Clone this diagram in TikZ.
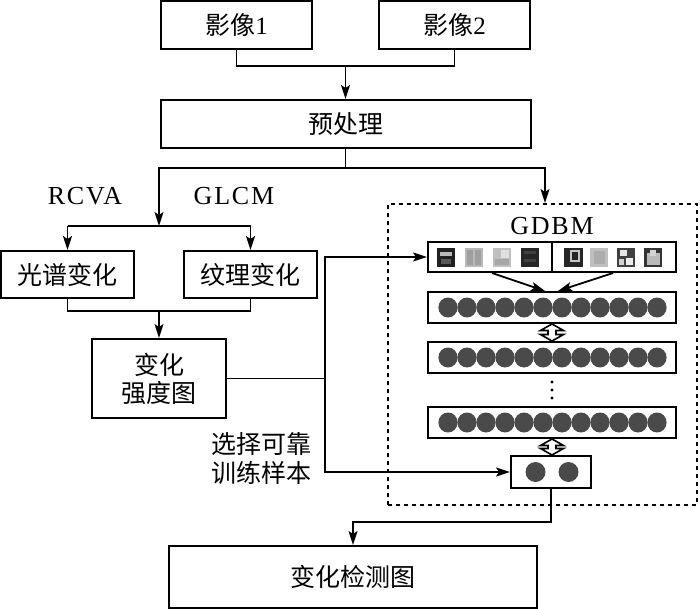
\documentclass[tikz,border=0pt]{standalone}
\usepackage{fontspec}
\setmainfont{Liberation Serif}
\newfontfamily\cjk{Noto Sans CJK SC}
\usetikzlibrary{arrows.meta,calc}
\definecolor{neur}{HTML}{4A4A4A}
\tikzset{
  box/.style={draw, line width=2pt, inner sep=0pt, align=center,
    font=\fontsize{25}{28}\selectfont\cjk},
  conn/.style={line width=1.8pt},
  arr/.style={conn, -{Stealth[length=14pt,width=9pt,inset=3pt]}},
  lbl/.style={inner sep=0pt, font=\fontsize{26}{30}\selectfont\addfontfeature{LetterSpace=7}},
  layerbox/.style={draw, line width=2pt, minimum width=248pt, minimum height=31pt, inner sep=0pt},
  dashbox/.style={draw, line width=2pt, dash pattern=on 4pt off 4pt, inner sep=0pt},
}
\newcommand\hollowarrow[2]{%
  \draw[line width=1.6pt, fill=white, line join=miter] let \p1=(#1), \p2=(#2) in
  (\x1,\y1) -- (\x1+11.5pt,\y1-6.5pt) -- (\x1+4pt,\y1-6.5pt) -- (\x1+4pt,\y2+6.5pt)
  -- (\x1+11.5pt,\y2+6.5pt) -- (\x1,\y2) -- (\x1-11.5pt,\y2+6.5pt) -- (\x1-4pt,\y2+6.5pt)
  -- (\x1-4pt,\y1-6.5pt) -- (\x1-11.5pt,\y1-6.5pt) -- cycle;}
\begin{document}
\begin{tikzpicture}[x=1pt,y=-1pt]
\useasboundingbox (0,0) rectangle (700,609);
\fill[white] (0,0) rectangle (700,609);

% main boxes
\node[box, minimum width=151pt, minimum height=48pt] (img1) at (236.5,25) {影像\fontspec{Liberation Serif}1};
\node[box, minimum width=151pt, minimum height=48pt] (img2) at (454.5,25) {影像\fontspec{Liberation Serif}2};
\node[box, minimum width=370pt, minimum height=48pt] (pre) at (345.5,124) {预处理};
\node[box, minimum width=133pt, minimum height=47pt] (spec) at (67.5,274.5) {光谱变化};
\node[box, minimum width=133pt, minimum height=47pt] (tex) at (250.5,274.5) {纹理变化};
\node[box, minimum width=134pt, minimum height=79pt] (int) at (159,378.5) {变化\\强度图};
\node[box, minimum width=368pt, minimum height=62pt] (out) at (353,577) {变化检测图};

% GDBM frame
\node[dashbox, minimum width=309pt, minimum height=301pt] (gdbm) at (542.5,354.5) {};
\node[lbl] (gdbmlbl) at (552,226) {GDBM};

% labels
\node[lbl] (rcva) at (85,196) {RCVA};
\node[lbl] (glcm) at (234,196) {GLCM};
\node[inner sep=0pt, align=center, font=\fontsize{25}{29}\selectfont\cjk] (sel) at (261.5,458.5) {选择可靠\\训练样本};

% input box with thumbnails
\node[layerbox, minimum height=30pt] (inp) at (552,257) {};
\draw[line width=1.6pt] (inp.north) -- (inp.south);
% thumbnails
\fill[gray!25!black] (437,248) rectangle (455,267);
\fill[gray!55] (440,252) rectangle (452,256);
\fill[gray!70!black] (441,259) rectangle (451,264);
\fill[gray!55] (465,248) rectangle (483,267);
\fill[gray!75] (467,250) rectangle (473,265);
\fill[gray!75] (475,250) rectangle (481,265);
\fill[gray!50] (493,248) rectangle (511,267);
\fill[gray!25] (501,250) rectangle (509,258);
\fill[gray!70] (495,259) rectangle (509,265);
\fill[gray!30!black] (521,248) rectangle (539,267);
\fill[gray!50!black] (524,251) rectangle (536,254);
\fill[gray!50!black] (524,259) rectangle (536,262);
\fill[gray!30!black] (564,248) rectangle (583,267);
\fill[gray!45] (570,250) rectangle (580,262);
\fill[gray!30!black] (572,252) rectangle (578,260);
\fill[gray!50] (590,248) rectangle (608,267);
\fill[gray!65] (594,251) rectangle (605,264);
\fill[gray!50!black] (617,248) rectangle (635,267);
\fill[gray!20] (620,250) rectangle (627,256);
\fill[gray!15] (626,258) rectangle (633,265);
\fill[gray!35] (619,259) rectangle (624,265);
\fill[gray!40!black] (644,248) rectangle (662,267);
\fill[gray!55] (647,253) rectangle (660,265);
\fill[gray!35] (650,250) rectangle (656,256);

% layers
\node[layerbox] (L1) at (552,307.5) {};
\node[layerbox] (L2) at (552,357.5) {};
\node[layerbox] (L3) at (552,422.5) {};
\foreach \ly in {307.5,357.5,422.5}{
  \foreach \k in {0,...,11}{
    \fill[neur] ({448+19*\k},\ly) ellipse [x radius=9.6, y radius=10];
  }
}
\node[draw, line width=2pt, minimum width=80pt, minimum height=32pt, inner sep=0pt] (outl) at (551,472) {};
\fill[neur] (535.5,472) circle [radius=10];
\fill[neur] (568.5,472) circle [radius=10];

% dots
\foreach \dy in {382,390,398} \fill (552,\dy) circle [radius=1.7];

\hollowarrow{L1.south}{L2.north}
\hollowarrow{L3.south}{outl.north}

% connectors
\coordinate (j1) at (345.5,66);
\draw[conn] (img1.south) |- (j1) -| (img2.south);
\draw[arr] (j1) -- (pre.north);
\coordinate (j2) at (345.5,168);
\draw[conn] (pre.south) -- (j2);
\draw[arr] (j2) -| ([xshift=2.5pt]gdbm.north);
\coordinate (j3) at (159,226);
\draw[arr] (j2) -| (j3);
\draw[conn] (spec.north |- j3) -- (tex.north |- j3);
\draw[arr] (spec.north |- j3) -- (spec.north);
\draw[arr] (tex.north |- j3) -- (tex.north);
\coordinate (j4) at (159,311);
\draw[conn] (spec.south) |- (j4) -| (tex.south);
\draw[arr] (j4) -- (int.north);
\coordinate (j5) at (325,378.5);
\draw[conn] (int.east) -- (j5);
\draw[arr] (j5) |- (inp.west);
\draw[arr] (j5) |- (outl.west);
\draw[arr] ([xshift=-60pt]inp.south) -- ([xshift=-7pt]L1.north);
\draw[arr] ([xshift=61pt]inp.south) -- ([xshift=6pt]L1.north);
\coordinate (j6) at (353,522);
\draw[arr] (outl.south) |- (j6) -- (out.north);
\end{tikzpicture}
\end{document}
